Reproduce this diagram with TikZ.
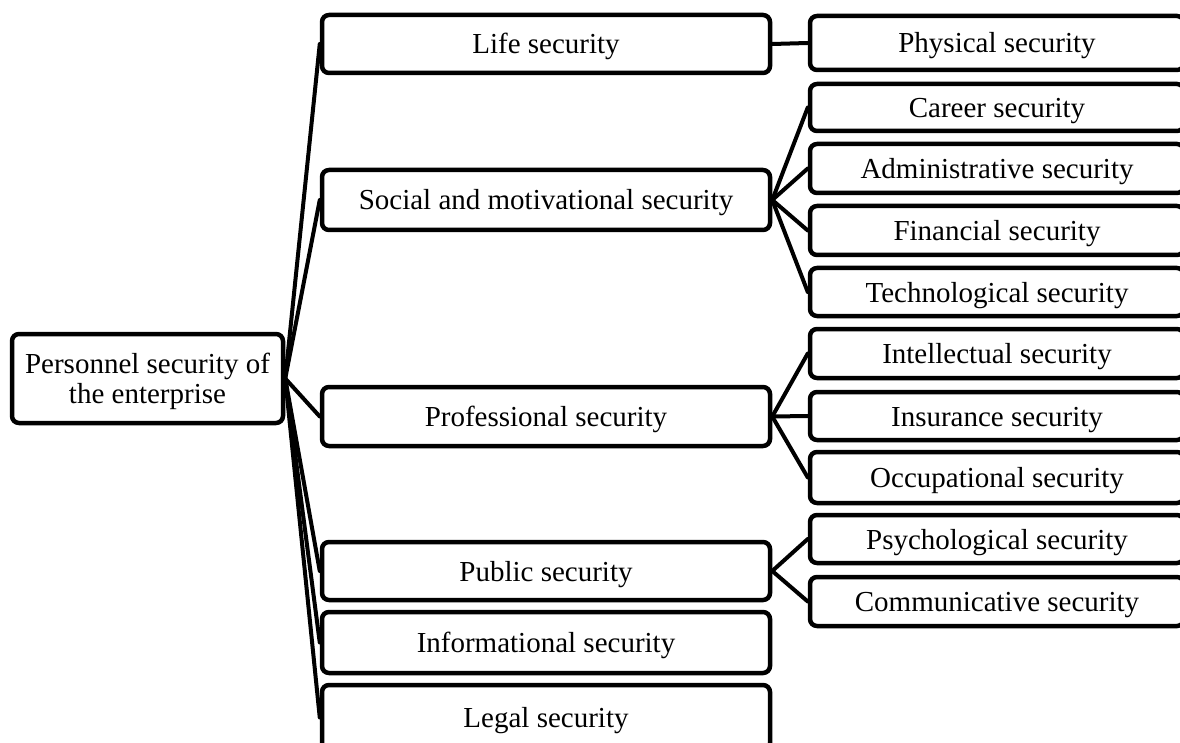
\documentclass[tikz,border=0pt]{standalone}
\usepackage{fontspec}
\setmainfont{Liberation Serif}
\begin{document}
\begin{tikzpicture}[x=1pt,y=-1pt,
  box/.style={draw, line width=4.5pt, rounded corners=7pt, inner sep=0pt, align=center,
    font=\fontsize{29}{30}\selectfont, fill=white, text height=20pt, text depth=0pt},
  mid/.style={box, minimum width=448pt},
  leaf/.style={box, minimum width=374pt},
  conn/.style={line width=4pt, line cap=round}]
\useasboundingbox (0,0) rectangle (1180,743);
\clip (0,0) rectangle (1180,743);
% root
\node[box, text height=, text depth=0pt, minimum width=271pt, minimum height=89pt] (root) at (147.5,378.5) {Personnel security of\\the enterprise};
% middle column
\node[mid, minimum height=58pt] (life) at (546,44) {Life security};
\node[mid, minimum height=60pt] (social) at (546,200) {Social and motivational security};
\node[mid, minimum height=59pt] (prof) at (546,416.5) {Professional security};
\node[mid, minimum height=58pt] (public) at (546,571) {Public security};
\node[mid, minimum height=61pt] (info) at (546,642.5) {Informational security};
\node[mid, minimum height=65pt] (legal) at (546,717.5) {Legal security};
% right column
\node[leaf, minimum height=54pt] (phys) at (997,43) {Physical security};
\node[leaf, minimum height=47pt] (career) at (997,107.5) {Career security};
\node[leaf, minimum height=49pt] (admin) at (997,168.5) {Administrative security};
\node[leaf, minimum height=49pt] (fin) at (997,230.5) {Financial security};
\node[leaf, minimum height=48pt] (tech) at (997,292) {Technological security};
\node[leaf, minimum height=49pt] (intel) at (997,353.5) {Intellectual security};
\node[leaf, minimum height=48pt] (insur) at (997,416) {Insurance security};
\node[leaf, minimum height=51pt] (occup) at (997,477.5) {Occupational security};
\node[leaf, minimum height=48pt] (psych) at (997,539) {Psychological security};
\node[leaf, minimum height=49pt] (comm) at (997,601.5) {Communicative security};
% connectors from root
\foreach \t in {life,social,prof,public,info,legal}
  \draw[conn] (root.east) -- (\t.west);
% connectors to leaves
\draw[conn] (life.east) -- (phys.west);
\foreach \t in {career,admin,fin,tech}
  \draw[conn] (social.east) -- (\t.west);
\foreach \t in {intel,insur,occup}
  \draw[conn] (prof.east) -- (\t.west);
\foreach \t in {psych,comm}
  \draw[conn] (public.east) -- (\t.west);
\end{tikzpicture}
\end{document}
